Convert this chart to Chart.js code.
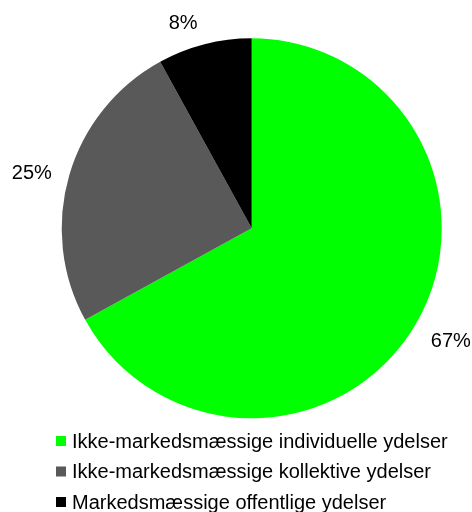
<!DOCTYPE html>
<html>
<head>
<meta charset="utf-8">
<script src="https://cdn.jsdelivr.net/npm/chart.js@4"></script>
<style>
    html, body { margin: 0; padding: 0; background: #ffffff; }
    canvas { display: block; }
</style>
</head>
<body>
<canvas id="pieChart" width="472" height="512"></canvas>
<script>
// Data
const categories = [
    'Ikke-markedsmæssige individuelle ydelser',
    'Ikke-markedsmæssige kollektive ydelser',
    'Markedsmæssige offentlige ydelser'
];
const shares = [67, 25, 8];
const sliceColors = ['#00ff00', '#595959', '#000000'];

const FONT = "'Liberation Sans', Arial, sans-serif";

// small hand nudges so the labels sit where the original placed them
const labelNudge = [[2, 3], [0, 5], [-13, 4]];

// Percent labels outside each slice + legend list under the pie
const labelsAndLegend = {
    id: 'labelsAndLegend',
    afterDraw(chart) {
        const ctx = chart.ctx;
        const arcs = chart.getDatasetMeta(0).data;
        ctx.save();
        ctx.font = '20px ' + FONT;
        ctx.fillStyle = '#000000';
        ctx.textAlign = 'center';
        ctx.textBaseline = 'middle';

        arcs.forEach(function (arc, i) {
            const p = arc.getProps(['x', 'y', 'startAngle', 'endAngle', 'outerRadius'], true);
            const mid = (p.startAngle + p.endAngle) / 2;
            const dx = Math.cos(mid), dy = Math.sin(mid);
            const text = shares[i] + '%';
            const w = ctx.measureText(text).width;
            const h = 14;
            const gap = 19;
            const x = p.x + dx * (p.outerRadius + gap) + dx * w / 2 + labelNudge[i][0];
            const y = p.y + dy * (p.outerRadius + gap) + dy * h / 2 + labelNudge[i][1];
            ctx.fillText(text, x, y);
        });

        // legend
        const left = 56;
        const top = 441;
        const step = 30.5;
        ctx.textAlign = 'left';
        categories.forEach(function (name, i) {
            const cy = top + i * step;
            ctx.fillStyle = sliceColors[i];
            ctx.fillRect(left, cy - 5, 10, 10);
            ctx.fillStyle = '#000000';
            ctx.fillText(name, left + 16, cy + 1);
        });
        ctx.restore();
    }
};

new Chart(document.getElementById('pieChart').getContext('2d'), {
    type: 'pie',
    data: {
        labels: categories,
        datasets: [{
            data: shares,
            backgroundColor: sliceColors,
            borderWidth: 0
        }]
    },
    options: {
        responsive: false,
        animation: false,
        layout: {
            padding: { left: 61.7, right: 30.3, top: 38.3, bottom: 93.7 }
        },
        plugins: {
            legend: { display: false },
            tooltip: { enabled: false }
        }
    },
    plugins: [labelsAndLegend]
});
</script>
</body>
</html>
